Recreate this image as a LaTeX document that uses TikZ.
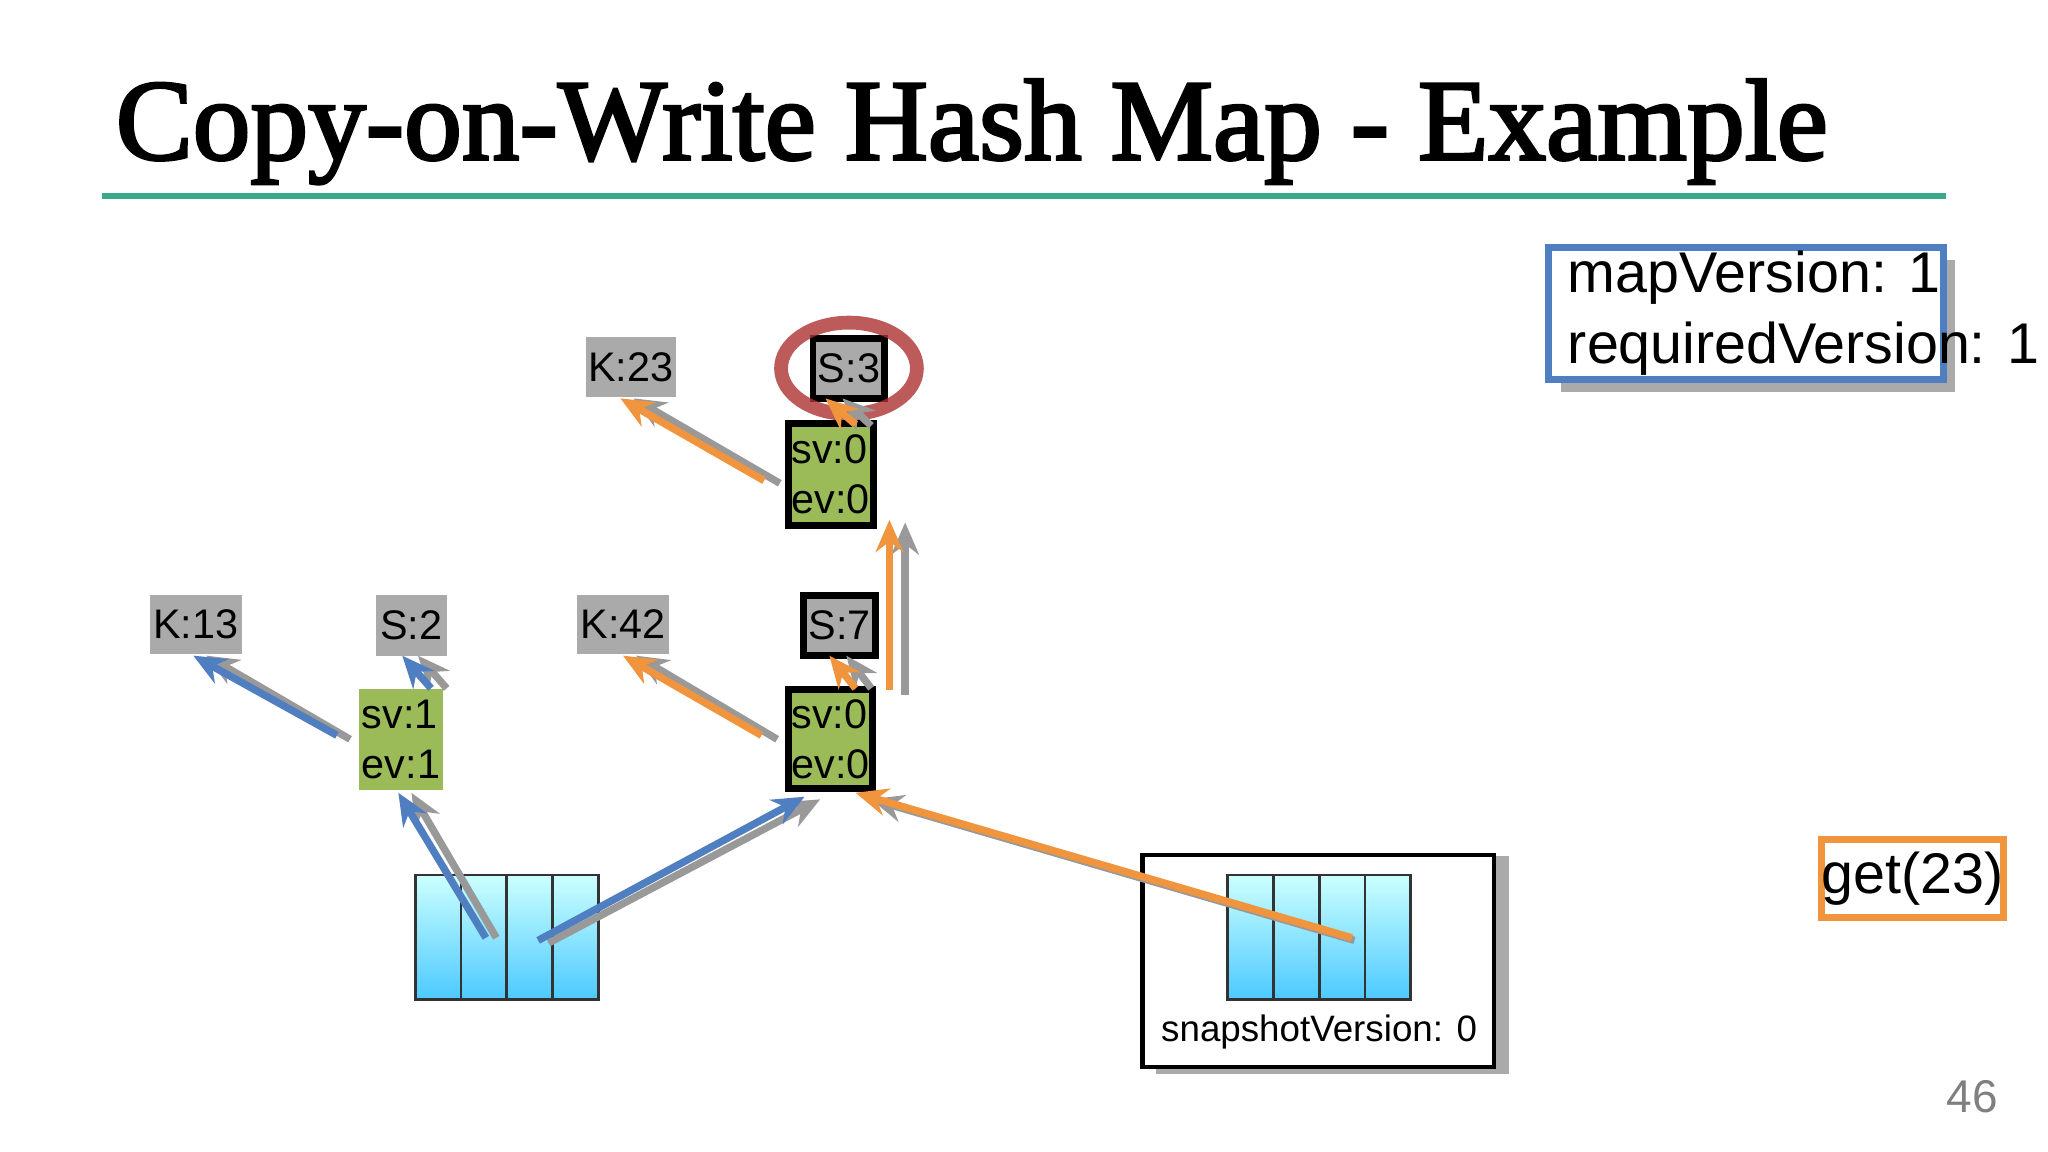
\documentclass[tikz,border=0pt]{standalone}
\usepackage{fontspec}
\setmainfont{Liberation Sans}
\newfontfamily\titlefont[FakeBold=2.5]{Liberation Serif}
\usetikzlibrary{arrows.meta}
\definecolor{teal}{HTML}{3AA88A}
\definecolor{bl}{HTML}{4F7FC0}
\definecolor{og}{HTML}{F0953E}
\definecolor{gr}{HTML}{9AA62E}
\definecolor{grn}{HTML}{9BBB59}
\definecolor{lab}{HTML}{AAAAAA}
\begin{document}
\begin{tikzpicture}[x=0.01cm,y=-0.01cm,
  lbl/.style={fill=lab,inner sep=0pt,font=\fontsize{9}{10}\selectfont},
  grbox/.style={fill=grn,inner sep=0pt,align=left,font=\fontsize{9}{11}\selectfont},
  a/.style={-{Stealth[length=7pt,width=6pt]},line width=1.6pt},
  ba/.style={a,draw=bl}, oa/.style={a,draw=og}, ga/.style={a,draw=gray!80},
  cell/.style={draw=black!80,top color=cyan!20,bottom color=cyan!70!blue!70,line width=0.6pt}]
\useasboundingbox (0,0) rectangle (1568,882);
\fill[white] (0,0) rectangle (1568,882);
\node[anchor=base west,inner sep=0pt] (title) at (88,122) {\resizebox{13.1cm}{!}{\titlefont Copy-on-Write Hash Map - Example}};
\draw[teal,line width=1.2pt] (78,150) -- (1490,150);
% mapVersion
\fill[lab] (1195,199) rectangle (1497,300);
\node[draw=bl,line width=1.5pt,fill=white,minimum width=3.02cm,minimum height=1.01cm,anchor=north west,inner sep=0pt] (mv) at (1183,187) {};
\node[anchor=west,align=left,font=\fontsize{12.5}{15.5}\selectfont] (mvt) at (1188,240) {mapVersion: 1\\requiredVersion: 1};
% get
\fill[lab] (1404,652) rectangle (1532,705);
\node[draw=og,line width=1.5pt,fill=white,minimum width=1.28cm,minimum height=0.6cm,anchor=north west,inner sep=0pt,font=\fontsize{12.5}{14}\selectfont] (get) at (1392,640) {get(23)};
% snapshot
\fill[lab] (885,655) rectangle (1155,822);
\node[draw=black,line width=1pt,fill=white,minimum width=2.69cm,minimum height=1.62cm,anchor=north west,inner sep=0pt] (snap) at (873,653) {};
\foreach \i in {0,1,2,3}{\draw[cell] (940+35*\i,670) rectangle (975+35*\i,765);}
\node[font=\fontsize{8}{10}\selectfont] (sv) at (1010,790) {snapshotVersion: 0};
% left array
\foreach \i in {0,1,2,3}{\draw[cell] (318+35*\i,670) rectangle (353+35*\i,765);}
\coordinate (c2) at (372,718); \coordinate (c3) at (412,720); \coordinate (sc) at (1035,718);
% labels
\node[lbl,minimum width=0.7cm,minimum height=0.45cm] (k13) at (150,478) {K:13};
\node[lbl,minimum width=0.54cm,minimum height=0.47cm] (s2) at (315,479) {S:2};
\node[lbl,minimum width=0.7cm,minimum height=0.45cm] (k42) at (477,478) {K:42};
\node[lbl,draw=black,line width=1.5pt,minimum width=0.55cm,minimum height=0.46cm] (s7) at (643,479) {S:7};
\node[lbl,minimum width=0.69cm,minimum height=0.46cm] (k23) at (483,281) {K:23};
\node[lbl,draw=black,line width=1.5pt,minimum width=0.55cm,minimum height=0.46cm] (s3) at (650,282) {S:3};
\draw[red!60!black!80,line width=3pt,opacity=0.8] (650,282) ellipse (52 and 35);
\node[grbox,minimum width=0.65cm,minimum height=0.77cm] (g1) at (307,566) {sv:1\\ev:1};
\node[grbox,draw=black,line width=1.5pt,minimum width=0.64cm,minimum height=0.76cm] (g2) at (636,566) {sv:0\\ev:0};
\node[grbox,draw=black,line width=1.5pt,minimum width=0.65cm,minimum height=0.78cm] (g3) at (636,363) {sv:0\\ev:0};
% arrows
\draw[ga] (268,566) -- (158,502); \draw[ba] (258,563) -- (148,502);
\draw[ga] (342,527) -- (320,502); \draw[ba] (330,527) -- (308,502);
\draw[ga] (380,718) -- (315,607); \draw[ba] (c2) -- (305,607);
\draw[ga] (420,722) -- (628,612); \draw[ba] (c3) -- (616,610);
\draw[ga] (595,566) -- (487,502); \draw[oa] (583,563) -- (477,502);
\draw[ga] (667,527) -- (648,502); \draw[oa] (655,527) -- (635,502);
\draw[ga] (693,532) -- (693,400); \draw[oa] (681,528) -- (681,398);
\draw[ga] (597,370) -- (485,305); \draw[oa] (585,368) -- (475,305);
\draw[ga] (667,326) -- (645,305); \draw[oa] (655,325) -- (632,305);
\draw[ga] (1037,720) -- (667,612); \draw[oa] (sc) -- (655,607);
\node[text=gray,font=\fontsize{10}{12}\selectfont] (pg) at (1510,840) {46};
\end{tikzpicture}
\end{document}
